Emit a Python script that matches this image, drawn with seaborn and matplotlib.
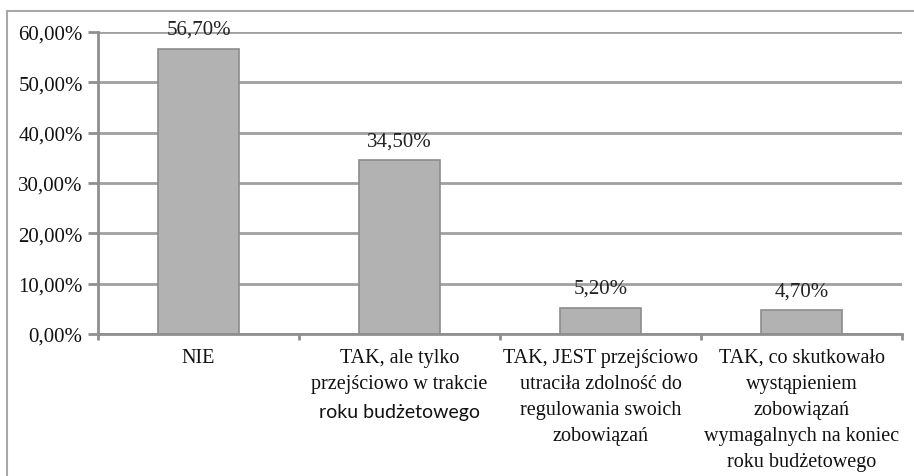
import matplotlib
matplotlib.use("Agg")
import matplotlib.pyplot as plt
import seaborn as sns
import pandas as pd
from matplotlib.lines import Line2D

categories = ["NIE",
              "TAK, ale tylko\nprzejściowo w trakcie",
              "TAK, JEST przejściowo\nutraciła zdolność do\nregulowania swoich\nzobowiązań",
              "TAK, co skutkowało\nwystąpieniem\nzobowiązań\nwymagalnych na koniec\nroku budżetowego"]
extra_sans_line = {1: "roku budżetowego"}
values = [56.7, 34.5, 5.2, 4.7]
value_labels = ["56,70%", "34,50%", "5,20%", "4,70%"]
yticks = [0, 10, 20, 30, 40, 50, 60]
ytick_labels = ["0,00%", "10,00%", "20,00%", "30,00%", "40,00%", "50,00%", "60,00%"]

sns.set_theme(style="white")
plt.rcParams["font.family"] = ["Liberation Serif", "DejaVu Serif"]

W, H = 914, 477
fig = plt.figure(figsize=(W / 100, H / 100), dpi=100)
ax = fig.add_axes([98 / W, 1 - 335 / H, (902 - 98) / W, (335 - 33) / H])

df = pd.DataFrame({"cat": [str(i) for i in range(len(values))], "val": values})
sns.barplot(data=df, x="cat", y="val", ax=ax, color="#b2b2b2", width=0.4,
            edgecolor="#8c8c8c", linewidth=1.2, saturation=1)

ax.set_xlim(-0.5, len(values) - 0.5)
ax.set_ylim(0, 60)
ax.set_yticks(yticks)
ax.set_yticklabels(ytick_labels, fontsize=15, color="#111111")
ax.set_xlabel("")
ax.set_ylabel("")
ax.set_axisbelow(True)
ax.yaxis.grid(True, color="#a0a0a0", linewidth=2)
ax.xaxis.grid(False)

for s in ["top", "right"]:
    ax.spines[s].set_visible(False)
for s in ["left", "bottom"]:
    ax.spines[s].set_color("#8f8f8f")
    ax.spines[s].set_linewidth(2)

ax.tick_params(axis="y", which="major", length=7, width=2, color="#8f8f8f", left=True, pad=4)
ax.set_xticks([i - 0.5 for i in range(len(values) + 1)])
ax.set_xticklabels([])
ax.tick_params(axis="x", which="major", length=4, width=2, color="#8f8f8f", bottom=True)

trans = ax.get_xaxis_transform()
sans_y = -0.23
for i, lab in enumerate(categories):
    ax.text(i, -0.045, lab, transform=trans, ha="center", va="top",
            fontsize=14.5, color="#111111", linespacing=1.51, multialignment="center")
    if i in extra_sans_line:
        ax.text(i, sans_y, extra_sans_line[i], transform=trans,
                ha="center", va="top", fontsize=14, color="#111111",
                family=["Lato", "DejaVu Sans"])

for i, (v, lab) in enumerate(zip(values, value_labels)):
    ax.annotate(lab, (i, v), xytext=(0, 14), textcoords="offset points",
                ha="center", va="center", fontsize=15, color="#222222")

# outer frame
fig.add_artist(Line2D([7 / W, 1.0], [1 - 12 / H, 1 - 12 / H], transform=fig.transFigure,
                      color="#a8a8a8", linewidth=1.5))
fig.add_artist(Line2D([7 / W, 7 / W], [1 - 12 / H, 0], transform=fig.transFigure,
                      color="#a8a8a8", linewidth=1.5))

fig.savefig("out.png", dpi=100)
